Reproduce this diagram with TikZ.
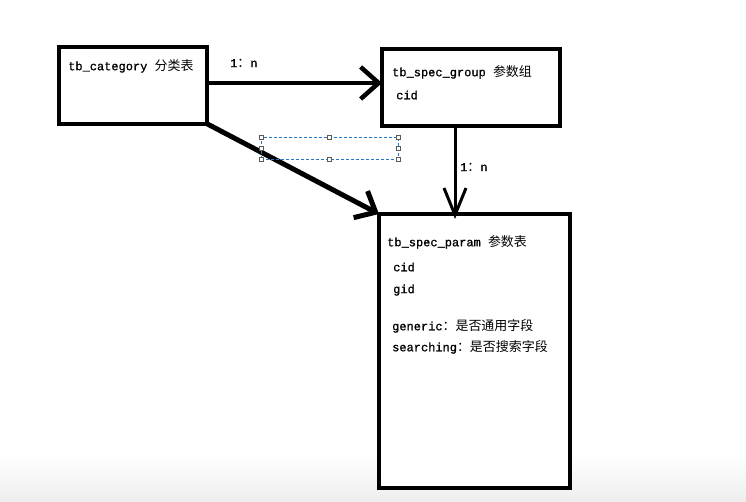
\documentclass[tikz,border=0pt]{standalone}
\usepackage{fontspec}
\setmainfont{Liberation Mono}[FakeBold=0.9]
\newfontfamily\cjk[Scale=1.08]{Noto Sans CJK SC}
\usetikzlibrary{arrows.meta}
\begin{document}
\begin{tikzpicture}[x=1pt,y=-1pt,
  box/.style={draw, line width=4pt, inner sep=0pt, outer sep=0pt},
  txt/.style={anchor=west, inner sep=0pt, font=\fontsize{12}{14}\selectfont},
  conn/.style={line width=4.5pt, -{Straight Barb[length=18pt,width=32pt]}},
  selbox/.style={draw={rgb,255:red,40;green,120;blue,200}, dashed, dash pattern=on 3pt off 2pt, line width=0.9pt, inner sep=0pt, outer sep=0pt},
  handle/.style={draw={rgb,255:red,90;green,90;blue,90}, fill=white, line width=0.7pt, minimum size=4pt, inner sep=0pt}]
\useasboundingbox (0,0) rectangle (746,501);
\fill[white] (0,0) rectangle (746,501);
\shade[top color=white, bottom color={rgb,255:red,238;green,238;blue,238}] (0,455) rectangle (746,501);

% boxes
\node[box, minimum width=148pt, minimum height=76.5pt] (cat) at (132.5,85.25) {};
\node[box, minimum width=178pt, minimum height=77pt] (grp) at (471,87.5) {};
\node[box, fill=white, minimum width=191pt, minimum height=274pt] (par) at (474.5,351) {};

% texts
\node[txt] (t1) at (68,66) {tb\_category {\cjk 分类表}};
\node[txt] (t2) at (392,72) {tb\_spec\_group {\cjk 参数组}};
\node[txt] (t3) at (396,95) {cid};
\node[txt] (t4) at (387,242) {tb\_spec\_param {\cjk 参数表}};
\node[txt] (t5) at (393,267) {cid};
\node[txt] (t6) at (393,290) {gid};
\node[txt] (t7) at (392,326) {generic{\cjk ：是否通用字段}};
\node[txt] (t8) at (392,347) {searching{\cjk ：是否搜索字段}};

% connectors
\coordinate (y1) at (0,83);
\coordinate (x3) at (455,0);
\draw[conn] (cat.east |- y1) -- (grp.west |- y1);
\draw[line width=5pt, -{Straight Barb[length=17pt,width=30pt]}] (cat.south east) -- (par.north west);
\draw[line width=3pt, -{Straight Barb[length=27pt,width=22pt]}] (grp.south -| x3) -- ([yshift=-5pt]par.north -| x3);

% labels
\node[txt] (l1) at (230,63) {1{\cjk ：}n};
\node[txt] (l2) at (460,167) {1{\cjk ：}n};

% selection frame
\node[selbox, minimum width=137pt, minimum height=22pt] (sel) at (329.5,148) {};
\foreach \a in {north west,north,north east,west,east,south west,south,south east}
  \node[handle] at (sel.\a) {};
\end{tikzpicture}
\end{document}
